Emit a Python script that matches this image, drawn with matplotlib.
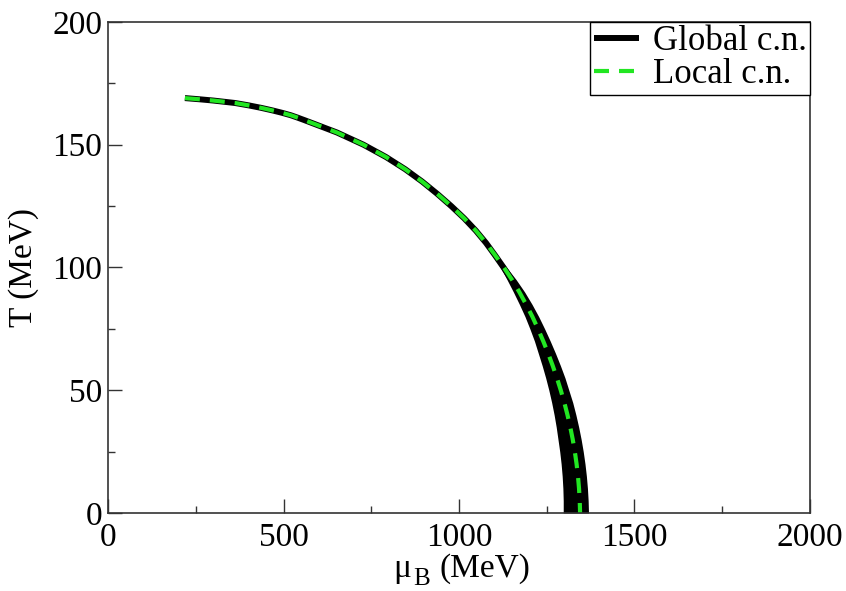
import numpy as np
import matplotlib
matplotlib.use("Agg")
import matplotlib.pyplot as plt
from matplotlib.ticker import MultipleLocator

# Data
T = [169, 168.5, 168, 167, 166, 165, 164, 163, 162, 161, 160, 155, 150,
     145, 140, 135, 130, 125, 120, 115, 110, 105, 100, 95, 90, 85, 80,
     75, 70, 65, 60, 55, 50, 45, 40, 35, 30, 25, 20, 15, 10, 5, 0]

# Local c.n. (dashed green)
mu_local = [219, 262, 300, 362, 402, 437, 468, 496, 521, 541, 560, 652,
            728, 792, 847, 895, 938, 978, 1015, 1048, 1077, 1103, 1128,
            1151, 1172, 1191, 1209, 1225, 1240, 1254, 1267, 1279, 1290,
            1300, 1309, 1317, 1324, 1330, 1335, 1339, 1342, 1344, 1345]

# Global c.n. band (black), lower and upper edges
mu_glob_lo = [219, 262, 300, 362, 402, 437, 468, 496, 521, 541, 560, 652,
              728, 792, 847, 895, 938, 978, 1015, 1048, 1075, 1098, 1118,
              1137, 1155, 1172, 1188, 1202, 1215, 1226, 1237, 1247, 1256,
              1264, 1271, 1277, 1282, 1287, 1291, 1294, 1296, 1297, 1297]
mu_glob_hi = [219, 262, 300, 362, 402, 437, 468, 496, 521, 541, 560, 652,
              728, 792, 847, 895, 938, 978, 1015, 1048, 1079, 1107, 1136,
              1163, 1187, 1208, 1227, 1244, 1260, 1275, 1289, 1302, 1313,
              1324, 1333, 1341, 1348, 1354, 1359, 1363, 1366, 1368, 1369]

plt.rcParams["font.family"] = ["Liberation Serif", "DejaVu Serif"]

fig = plt.figure(figsize=(8.46, 5.91), dpi=100)
ax = fig.add_axes([0.1277, 0.132, 0.8297, 0.8308])

mu_mid = [(a + b) / 2 for a, b in zip(mu_glob_lo, mu_glob_hi)]
ax.fill_betweenx(T, mu_glob_lo, mu_glob_hi, color="black", lw=0)
ax.plot(mu_mid, T, color="black", lw=4.3, solid_capstyle="butt",
        label="Global c.n.")
ax.plot(mu_local, T, color="#22e622", lw=3, dashes=(3.6, 2.4),
        label="Local c.n.")

ax.set_xlim(0, 2000)
ax.set_ylim(0, 200)
ax.xaxis.set_major_locator(MultipleLocator(500))
ax.xaxis.set_minor_locator(MultipleLocator(250))
ax.yaxis.set_major_locator(MultipleLocator(50))
ax.yaxis.set_minor_locator(MultipleLocator(25))
ax.tick_params(which="both", direction="in", labelsize=24, width=1,
               color="#333333")
ax.tick_params(which="major", length=10)
ax.tick_params(which="minor", length=5)
ax.tick_params(axis="x", pad=7)
ax.tick_params(axis="y", pad=4)
for s in ax.spines.values():
    s.set_linewidth(1.2)
    s.set_color("#333333")

ax.set_ylabel("T (MeV)", fontsize=24, labelpad=10)

# x label: mu with a large subscript B, as in the original
t1 = fig.text(393 / 846, 1 - 577 / 591, "μ", fontsize=24,
              ha="left", va="baseline")
t2 = ax.annotate("B", xy=(1, 0), xycoords=t1, xytext=(1.5, -4),
                 textcoords="offset points", fontsize=18,
                 ha="left", va="bottom")
t3 = ax.annotate("(MeV)", xy=(1, 0), xycoords=(t2, t1), xytext=(7, 0),
                 textcoords="offset points", fontsize=24,
                 ha="left", va="bottom")

leg = ax.legend(loc="upper right", borderaxespad=0, fontsize=25,
                fancybox=False, framealpha=1, edgecolor="black",
                handlelength=1.3, handletextpad=0.4, labelspacing=0.0,
                borderpad=0.1)
leg.get_frame().set_linewidth(1)

fig.savefig("out.png", dpi=100)
